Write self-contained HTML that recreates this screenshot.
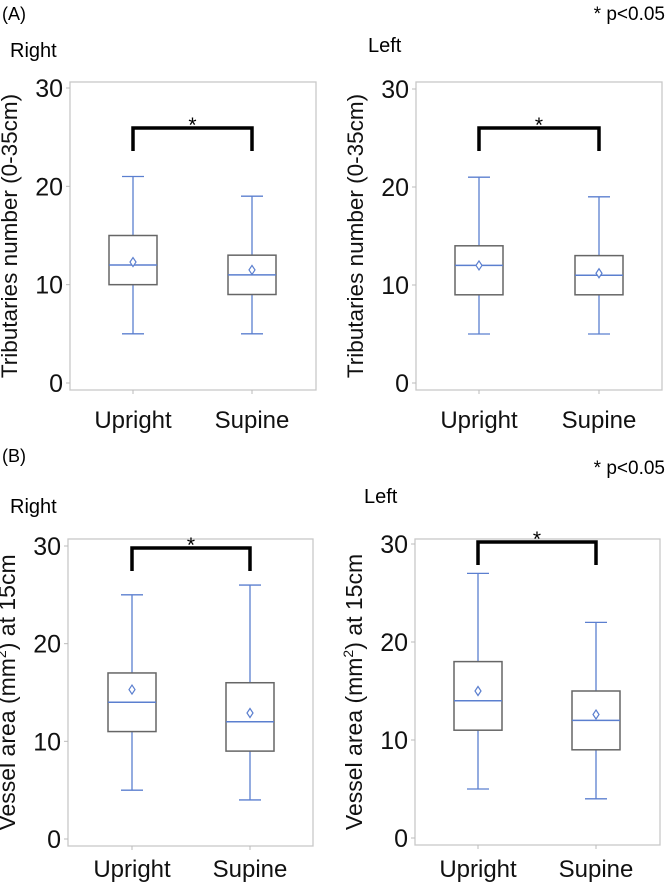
<!DOCTYPE html>
<html><head><meta charset="utf-8"><style>
body{margin:0;background:#fff;width:668px;height:886px;overflow:hidden}
svg{display:block;font-family:"Liberation Sans",Arial,sans-serif}
</style></head><body>
<svg id="fig" width="668" height="886" viewBox="0 0 668 886">
<text x="2" y="20" font-size="18">(A)</text>
<text x="665" y="20" font-size="19" text-anchor="end">* p&lt;0.05</text>
<text x="10" y="57" font-size="20">Right</text>
<text x="368" y="52" font-size="20">Left</text>
<text x="2" y="462" font-size="18">(B)</text>
<text x="665" y="474" font-size="19" text-anchor="end">* p&lt;0.05</text>
<text x="10" y="513" font-size="20">Right</text>
<text x="364" y="503" font-size="20">Left</text>
</svg>
<script>
const categories=["Upright","Supine"];
const yTicks=[0,10,20,30];
const tlMin=[5,5],tlQ1=[10,9],tlMed=[12,11],tlQ3=[15,13],tlMax=[21,19],tlMean=[12.3,11.5];
const trMin=[5,5],trQ1=[9,9],trMed=[12,11],trQ3=[14,13],trMax=[21,19],trMean=[12,11.2];
const blMin=[5,4],blQ1=[11,9],blMed=[14,12],blQ3=[17,16],blMax=[25,26],blMean=[15.3,12.9];
const brMin=[5,4],brQ1=[11,9],brMed=[14,12],brQ3=[18,15],brMax=[27,22],brMean=[15,12.6];

const NS="http://www.w3.org/2000/svg";
const svg=document.getElementById('fig');
function mk(tag,attrs,parent){const e=document.createElementNS(NS,tag);for(const k in attrs)e.setAttribute(k,attrs[k]);(parent||svg).appendChild(e);return e;}

function panel(id,fx0,fx1,fy0,fy1,y0,y30,cx,brTop,brBot,ytitle,sup,labY,stats){
  const g=mk('g',{});
  
  
  const y=v=>y0+(y30-y0)*v/30;
  const fr=mk('rect',{x:fx0,y:fy0,width:fx1-fx0,height:fy1-fy0,fill:'none',stroke:'#c8c8c8','stroke-width':1.3},g);
  
  
  yTicks.forEach(t=>{
    const tk=mk('line',{x1:fx0-4,x2:fx0,y1:y(t),y2:y(t),stroke:'#bbb'},g);
    
    
    const tl=mk('text',{x:fx0-7,y:y(t)+9,'font-size':25,'text-anchor':'end',fill:'#111'},g);
    tl.textContent=t;
    
    
  });
  const tx=fx0-53, ty=(fy0+fy1)/2;
  const tt=mk('text',{x:tx,y:ty,'font-size':sup?23:22.5,'text-anchor':'middle',transform:`rotate(-90 ${tx} ${ty})`,fill:'#111'},g);
  
  
  if(sup){tt.innerHTML='Vessel area (mm<tspan dy="-9" font-size="14">2</tspan><tspan dy="9">) at 15cm</tspan>';}
  else tt.textContent=ytitle;
  const [mn,q1,md,q3,mx,me]=stats;
  categories.forEach((c,i)=>{
    const x=cx[i];
    const ct=mk('line',{x1:x,x2:x,y1:fy1,y2:fy1+4,stroke:'#bbb'},g);
    
    
    const cl=mk('text',{x:x,y:labY,'font-size':24,'text-anchor':'middle',fill:'#111'},g);
    cl.textContent=c;
    
    
    const w=mk('line',{x1:x,x2:x,y1:y(mx[i]),y2:y(mn[i]),stroke:'#5b7fcf','stroke-width':1.3},g);
    
    
    [mx[i],mn[i]].forEach(v=>{
      const cap=mk('line',{x1:x-11,x2:x+11,y1:y(v),y2:y(v),stroke:'#5b7fcf','stroke-width':1.3},g);
      
      
    });
    const b=mk('rect',{x:x-24,y:y(q3[i]),width:48,height:y(q1[i])-y(q3[i]),fill:'#fff',stroke:'#666','stroke-width':1.5},g);
    
    
    const m=mk('line',{x1:x-24,x2:x+24,y1:y(md[i]),y2:y(md[i]),stroke:'#5b7fcf','stroke-width':1.5},g);
    
    
    const my=y(me[i]);
    const d=mk('path',{d:`M${x} ${my-4.5}L${x+3} ${my}L${x} ${my+4.5}L${x-3} ${my}Z`,fill:'#fff',stroke:'#5b7fcf','stroke-width':1.2},g);
    
    
  });
  const br=mk('path',{d:`M${cx[0]} ${brBot}V${brTop}H${cx[1]}V${brBot}`,fill:'none',stroke:'#000','stroke-width':3.5},g);
  
  
  const st=mk('text',{x:(cx[0]+cx[1])/2,y:brTop+4,'font-size':21,'text-anchor':'middle'},g);
  st.textContent='*';
  
  
}
panel('chart-a-right',70,316,82,390,383,88,[133,252],128,151,'Tributaries number (0-35cm)',false,428,[tlMin,tlQ1,tlMed,tlQ3,tlMax,tlMean]);
panel('chart-a-left',416,662,82,390,383,89,[479,599],128,151,'Tributaries number (0-35cm)',false,428,[trMin,trQ1,trMed,trQ3,trMax,trMean]);
panel('chart-b-right',68,313,539,846,839,546,[132,250],548,571,'',true,877,[blMin,blQ1,blMed,blQ3,blMax,blMean]);
panel('chart-b-left',415,660,539,845,838,544,[478,596],542,565,'',true,877,[brMin,brQ1,brMed,brQ3,brMax,brMean]);
</script>
</body></html>
